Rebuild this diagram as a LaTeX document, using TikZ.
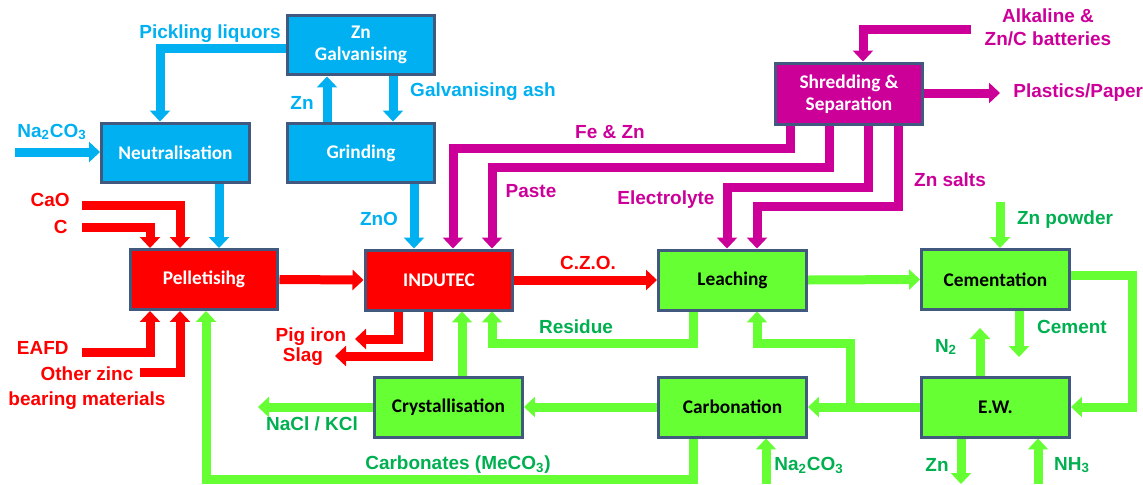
\documentclass[tikz,border=0pt]{standalone}
\usepackage{fontspec}
\setmainfont{Carlito}
\newfontfamily\arialf{Liberation Sans}
\usetikzlibrary{arrows.meta}
\pgfdeclarelayer{bg}
\pgfsetlayers{bg,main}
\definecolor{cyanC}{HTML}{00B0F0}
\definecolor{redC}{HTML}{FF0000}
\definecolor{magC}{HTML}{CC0099}
\definecolor{greenC}{HTML}{66FF33}
\definecolor{labG}{HTML}{00B050}
\definecolor{bordC}{HTML}{41597F}
\tikzset{
  flow/.style={line width=0.18cm, line join=miter, -{Triangle[width=0.4cm,length=0.22cm]}},
  box/.style={draw=bordC, line width=0.06cm, minimum width=2.96cm, minimum height=1.2cm,
    inner sep=0pt, align=center, font=\bfseries\fontsize{11}{12.5}\selectfont},
  lab/.style={inner sep=0pt, align=center, font=\arialf\bfseries\fontsize{10.8}{13}\selectfont},
}
\begin{document}
\begin{tikzpicture}[x=0.02cm,y=-0.02cm]
\useasboundingbox (0,0) rectangle (1143,484);
% boxes
\path
  (361,45)    node[box, fill=cyanC, text=white] (galv) {Zn\\Galvanising}
  (361,153)   node[box, fill=cyanC, text=white] (grind) {Grinding}
  (175.5,153) node[box, fill=cyanC, text=white] (neut) {Neutralisation}
  (204,279.5) node[box, fill=redC, text=white] (pell) {Pelletisihg}
  (439,280)   node[box, fill=redC, text=white] (indutec) {INDUTEC}
  (732.5,280) node[box, fill=greenC, text=black] (leach) {Leaching}
  (995.5,279.5) node[box, fill=greenC, text=black] (cement) {Cementation}
  (995.5,407) node[box, fill=greenC, text=black] (ew) {E.W.}
  (732.5,407) node[box, fill=greenC, text=black] (carb) {Carbonation}
  (448.5,407) node[box, fill=greenC, text=black] (cryst) {Crystallisation}
  (849,94)    node[box, fill=magC, text=white, minimum height=1.24cm] (shred) {Shredding \&\\Separation};

% free ends
\coordinate (naIn) at (15,152);
\coordinate (caoIn) at (82,205.5);
\coordinate (cIn) at (82,227);
\coordinate (eafdIn) at (82,352);
\coordinate (othIn) at (140,372);
\coordinate (batIn) at (971,29);
\coordinate (plOut) at (1000,93);
\coordinate (pigOut) at (355,339);
\coordinate (slagOut) at (335,356);
\coordinate (znpIn) at (1000,202);
\coordinate (cemOut) at (1019,357);
\coordinate (n2Out) at (980,328);
\coordinate (br) at (850,407);
\coordinate (naclOut) at (258,407);
\coordinate (naB) at (766,484);
\coordinate (znOut) at (961,484);
\coordinate (nh3In) at (1038,484);

\begin{pgfonlayer}{bg}
% cyan
\draw[flow, cyanC] (galv.west |- 0,48) -- (160,48) -- (160,0 |- neut.north);
\draw[flow, cyanC] (327,0 |- grind.north) -- (327,0 |- galv.south);
\draw[flow, cyanC] (393,0 |- galv.south) -- (393,0 |- grind.north);
\draw[flow, cyanC] (naIn) -- (neut.west |- naIn);
\draw[flow, cyanC] (219,0 |- neut.south) -- (219,0 |- pell.north);
\draw[flow, cyanC] (414,0 |- grind.south) -- (414,0 |- indutec.north);
% red
\draw[flow, redC] (caoIn) -- (180,205.5) -- (180,0 |- pell.north);
\draw[flow, redC] (cIn) -- (150,227) -- (150,0 |- pell.north);
\draw[flow, redC] (eafdIn) -- (150,352) -- (150,0 |- pell.south);
\draw[flow, redC] (othIn) -- (180,372) -- (180,0 |- pell.south);
\draw[flow, redC] (pell.east) -- (indutec.west);
\draw[flow, redC] (indutec.east) -- (leach.west);
\draw[flow, redC] (398,0 |- indutec.south) -- (398,339) -- (pigOut);
\draw[flow, redC] (428,0 |- indutec.south) -- (428,356) -- (slagOut);
% magenta
\draw[flow, magC] (batIn) -- (863,29) -- (863,0 |- shred.north);
\draw[flow, magC] (shred.east |- plOut) -- (plOut);
\draw[flow, magC] (790,0 |- shred.south) -- (790,148) -- (453,148) -- (453,0 |- indutec.north);
\draw[flow, magC] (829,0 |- shred.south) -- (829,167) -- (492,167) -- (492,0 |- indutec.north);
\draw[flow, magC] (868,0 |- shred.south) -- (868,187) -- (727,187) -- (727,0 |- leach.north);
\draw[flow, magC] (898,0 |- shred.south) -- (898,206) -- (757,206) -- (757,0 |- leach.north);
% green
\draw[flow, greenC] (leach.east) -- (cement.west);
\draw[flow, greenC] (znpIn) -- (1000,0 |- cement.north);
\draw[flow, greenC] (cement.east |- 0,275) -- (1132,275) -- (1132,407) -- (ew.east);
\draw[flow, greenC] (1019,0 |- cement.south) -- (cemOut);
\draw[flow, greenC] (980,0 |- ew.north) -- (n2Out);
\draw[flow, greenC] (ew.west) -- (carb.east);
\draw[flow, greenC] (br) -- (850,343) -- (757,343) -- (757,0 |- leach.south);
\draw[flow, greenC] (693,0 |- leach.south) -- (693,343) -- (492,343) -- (492,0 |- indutec.south);
\draw[flow, greenC] (carb.west) -- (cryst.east);
\draw[flow, greenC] (462,0 |- cryst.north) -- (462,0 |- indutec.south);
\draw[flow, greenC] (cryst.west) -- (naclOut);
\draw[flow, greenC] (693,0 |- carb.south) -- (693,479) -- (206,479) -- (206,0 |- pell.south);
\draw[flow, greenC] (naB) -- (766,0 |- carb.south);
\draw[flow, greenC] (961,0 |- ew.south) -- (znOut);
\draw[flow, greenC] (nh3In) -- (1038,0 |- ew.south);
\end{pgfonlayer}

% labels
\node[lab, text=cyanC] (lPick) at (210,34) {Pickling liquors};
\node[lab, text=cyanC] (lZn1) at (302,103) {Zn};
\node[lab, text=cyanC] (lAsh) at (483,92) {Galvanising ash};
\node[lab, text=cyanC] (lNa1) at (52,132) {Na\textsubscript{2}CO\textsubscript{3}};
\node[lab, text=cyanC] (lZnO) at (379,219) {ZnO};
\node[lab, text=redC, anchor=east] (lCaO) at (70,200) {CaO};
\node[lab, text=redC, anchor=east] (lC) at (68,227) {C};
\node[lab, text=redC, anchor=east] (lEafd) at (69,348) {EAFD};
\node[lab, text=redC, font=\arialf\bfseries\fontsize{10.8}{14.2}\selectfont] (lOther) at (87,388) {Other zinc\\bearing materials};
\node[lab, text=redC] (lCzo) at (588,263) {C.Z.O.};
\node[lab, text=redC] (lPig) at (311,337) {Pig iron};
\node[lab, text=redC] (lSlag) at (303,357) {Slag};
\node[lab, text=magC] (lBat) at (1048,27) {Alkaline \&\\Zn/C batteries};
\node[lab, text=magC, anchor=west] (lPlast) at (1013,93) {Plastics/Paper};
\node[lab, text=magC] (lFe) at (610,132) {Fe \& Zn};
\node[lab, text=magC] (lPaste) at (531,191) {Paste};
\node[lab, text=magC] (lElec) at (666,200) {Electrolyte};
\node[lab, text=magC] (lSalts) at (950,180) {Zn salts};
\node[lab, text=labG] (lZnp) at (1065,220) {Zn powder};
\node[lab, text=labG] (lCement) at (1072,327) {Cement};
\node[lab, text=labG] (lN2) at (946,347) {N\textsubscript{2}};
\node[lab, text=labG] (lRes) at (576,327) {Residue};
\node[lab, text=labG] (lNacl) at (312,424) {NaCl / KCl};
\node[lab, text=labG] (lCarb) at (458,465) {Carbonates (MeCO\textsubscript{3})};
\node[lab, text=labG] (lNa2) at (809,465) {Na\textsubscript{2}CO\textsubscript{3}};
\node[lab, text=labG] (lZn2) at (937,465) {Zn};
\node[lab, text=labG] (lNh3) at (1072,465) {NH\textsubscript{3}};
\end{tikzpicture}
\end{document}
